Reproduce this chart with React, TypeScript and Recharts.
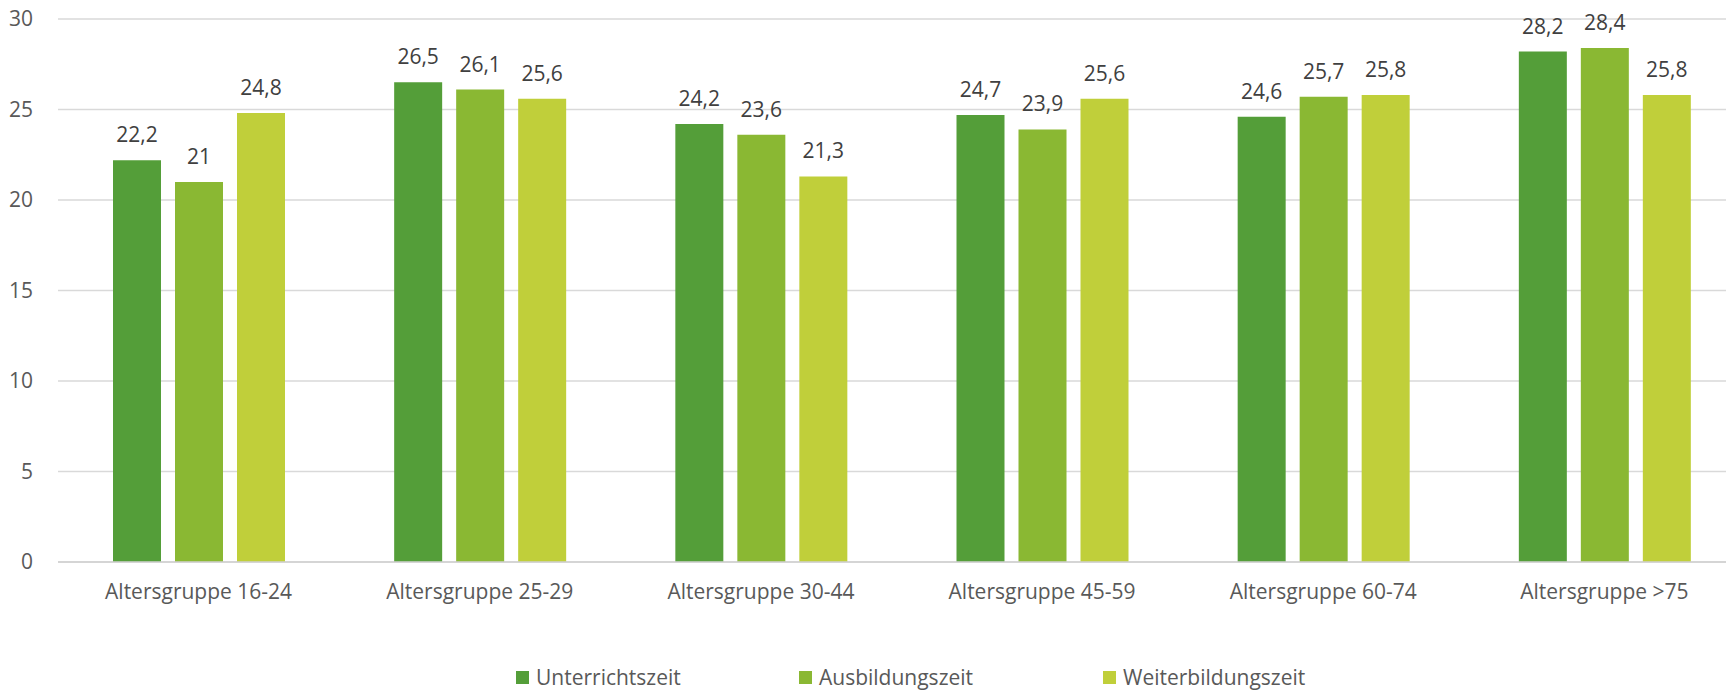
import React from 'react';
import { BarChart, Bar, XAxis, YAxis, CartesianGrid, Legend, LabelList } from 'recharts';

const categories = [
  'Altersgruppe 16-24',
  'Altersgruppe 25-29',
  'Altersgruppe 30-44',
  'Altersgruppe 45-59',
  'Altersgruppe 60-74',
  'Altersgruppe >75',
];
const unterrichtszeit = [22.2, 26.5, 24.2, 24.7, 24.6, 28.2];
const ausbildungszeit = [21, 26.1, 23.6, 23.9, 25.7, 28.4];
const weiterbildungszeit = [24.8, 25.6, 21.3, 25.6, 25.8, 25.8];
const yTicks = [0, 5, 10, 15, 20, 25, 30];

const series = [
  { key: 'unterricht', name: 'Unterrichtszeit', color: '#549E39' },
  { key: 'ausbildung', name: 'Ausbildungszeit', color: '#8AB833' },
  { key: 'weiterbildung', name: 'Weiterbildungszeit', color: '#C0CF3A' },
];

const data = categories.map((c, i) => ({
  category: c,
  unterricht: unterrichtszeit[i],
  ausbildung: ausbildungszeit[i],
  weiterbildung: weiterbildungszeit[i],
}));

const FONT = '"Open Sans", sans-serif';
const fmt = (v: any) => String(v).replace('.', ',');

// legend slots, Excel spaces them a bit unevenly
const legendSlots = [283, 304, 240];

const LegendContent = () => (
  <div style={{ display: 'flex', alignItems: 'center', height: 28, lineHeight: '28px', paddingLeft: 516, fontFamily: FONT, fontSize: 21, color: '#595959' }}>
    {series.map((s, i) => (
      <div key={s.key} style={{ display: 'flex', alignItems: 'center', width: legendSlots[i], whiteSpace: 'nowrap' }}>
        <span style={{ display: 'inline-block', width: 13, height: 13, background: s.color, marginRight: 7 }} />
        <span>{s.name}</span>
      </div>
    ))}
  </div>
);

export default function App() {
  return (
    <div style={{ position: 'absolute', left: 0, top: 0, width: 1726, height: 691, overflow: 'hidden', background: '#fff' }}>
      <BarChart
        width={1745}
        height={691}
        data={data}
        margin={{ top: 19, right: 0, left: 0, bottom: 0 }}
        barSize={48}
        barGap={14}
      >
        <CartesianGrid vertical={false} stroke="#d9d9d9" strokeWidth={1.5} />
        <XAxis
          dataKey="category"
          height={101}
          tickLine={false}
          tickSize={0}
          tickMargin={22}
          stroke="#d0d0d0"
          strokeWidth={1.5}
          tick={{ fill: '#595959', fontSize: 21, fontFamily: FONT }}
          interval={0}
        />
        <YAxis
          width={58}
          domain={[0, 30]}
          ticks={yTicks}
          axisLine={false}
          tickLine={false}
          tickSize={0}
          tickMargin={25}
          tick={{ fill: '#595959', fontSize: 21, fontFamily: FONT }}
        />
        <Legend verticalAlign="bottom" content={<LegendContent />} />
        {series.map(s => (
          <Bar key={s.key} dataKey={s.key} name={s.name} fill={s.color} isAnimationActive={false}>
            <LabelList
              dataKey={s.key}
              position="top"
              offset={18}
              formatter={fmt}
              style={{ fill: '#404040', fontSize: 21, fontFamily: FONT }}
            />
          </Bar>
        ))}
      </BarChart>
    </div>
  );
}
